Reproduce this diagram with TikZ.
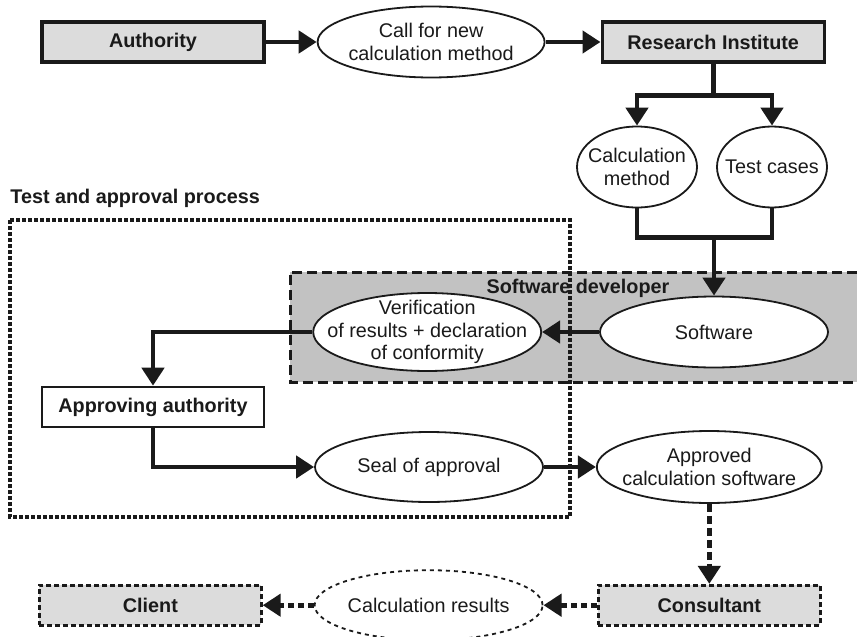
\documentclass[tikz,border=0pt]{standalone}
\usepackage{fontspec}
\setmainfont{Liberation Sans}
\usetikzlibrary{positioning,arrows.meta,shapes.geometric}

\definecolor{ink}{HTML}{1A1A1A}
\definecolor{boxgray}{HTML}{DCDCDC}
\definecolor{bandgray}{HTML}{C2C2C2}

\tikzset{
  >={Triangle[length=9pt,width=11pt]},
  every node/.style={text=ink,font=\fontsize{9.9}{11.2}\selectfont},
  box/.style={draw=ink,fill=boxgray,line width=1.7pt,minimum width=111pt,
    minimum height=20pt,inner sep=0pt,font=\fontsize{9.9}{11.2}\selectfont\bfseries},
  plainbox/.style={box,fill=white,line width=1.3pt},
  hintbox/.style={box,line width=1.3pt,dash pattern=on 2.5pt off 1.5pt},
  bubble/.style={ellipse,draw=ink,fill=white,line width=0.9pt,
    inner xsep=-11pt,inner ysep=-3pt,align=center},
  flow/.style={->,line width=2.3pt,draw=ink},
  link/.style={line width=2.3pt,draw=ink},
  hint/.style={->,line width=2.3pt,draw=ink,dash pattern=on 4pt off 2pt}
}

\begin{document}
\begin{tikzpicture}[x=0.5pt,y=-0.5pt]

\useasboundingbox (0,0) rectangle (857,637);

% Software developer band
\fill[bandgray] (290,272) rectangle (857,382);
\draw[ink,line width=1.5pt,dash pattern=on 5pt off 2.5pt]
  (857,272) -- (290,272) -- (290,382) -- (857,382);
\node[font=\fontsize{9.9}{11.2}\selectfont\bfseries] (devlabel) at (578,288) {Software developer};

% Test and approval process
\draw[ink,line width=2pt,dash pattern=on 2pt off 1pt] (10,220) rectangle (570,517);
\node[anchor=west,inner sep=0pt,font=\fontsize{9.9}{11.2}\selectfont\bfseries] (taplabel) at (10,198) {Test and approval process};

\node[box] (auth) at (153,42) {Authority};

\node[bubble,minimum width=113.5pt,minimum height=35.5pt,right=25.5pt of auth] (call) {Call for new\\calculation method};

\node[box,right=27.5pt of call] (inst) {Research Institute};

\node[bubble,minimum width=60pt,minimum height=40.5pt] (calc) at (637,167) {Calculation\\method};

\node[bubble,minimum width=55pt,minimum height=40.5pt] (test) at (772,167) {Test cases};

\node[bubble,minimum width=114pt,minimum height=35.5pt] (soft) at (714,332) {Software};

\node[bubble,minimum width=114pt,minimum height=39pt,left=28.5pt of soft] (verif) {Verification\\of results + declaration\\of conformity};

\node[plainbox] (appr) at (153,407) {Approving authority};

\node[bubble,minimum width=114pt,minimum height=35pt] (seal) at (429,467) {Seal of approval};

\node[bubble,minimum width=112.5pt,minimum height=36pt,right=26pt of seal] (apprsw) {Approved\\calculation software};

\node[hintbox,below=40pt of apprsw] (cons) {Consultant};

\node[bubble,dash pattern=on 2pt off 2pt,minimum width=114pt,minimum height=35pt,left=26.75pt of cons] (res) {Calculation results};

\node[hintbox,left=25.5pt of res] (client) {Client};

\path (inst.south) ++(0,32) coordinate (split);
\path (soft.north) ++(0,-58) coordinate (merge);

\draw

  % From authority to call

  (auth) edge[flow] (call)

  % From call to institute

  (call) edge[flow] (inst)

  % From software to verification

  (soft) edge[flow] (verif)

  % From seal to approved software

  (seal) edge[flow] (apprsw)

;

% From institute to method and test cases
\draw[link] (inst.south) -- (split);
\draw[flow] (split) -| (calc.north);
\draw[flow] (split) -| (test.north);

% From method and test cases to software
\draw[link] (calc.south) |- (merge);
\draw[link] (test.south) |- (merge);
\draw[flow] (merge) -- (soft.north);

% From verification to approving authority
\draw[flow] (verif.west) -| (appr.north);

% From approving authority to seal
\draw[flow] (appr.south) |- (seal.west);

% Use of the approved software
\draw[hint] (apprsw) -- (cons);
\draw[hint,dash pattern=on 3pt off 2pt] (cons) -- (res);
\draw[hint,dash pattern=on 3pt off 2pt] (res) -- (client);

\end{tikzpicture}
\end{document}
